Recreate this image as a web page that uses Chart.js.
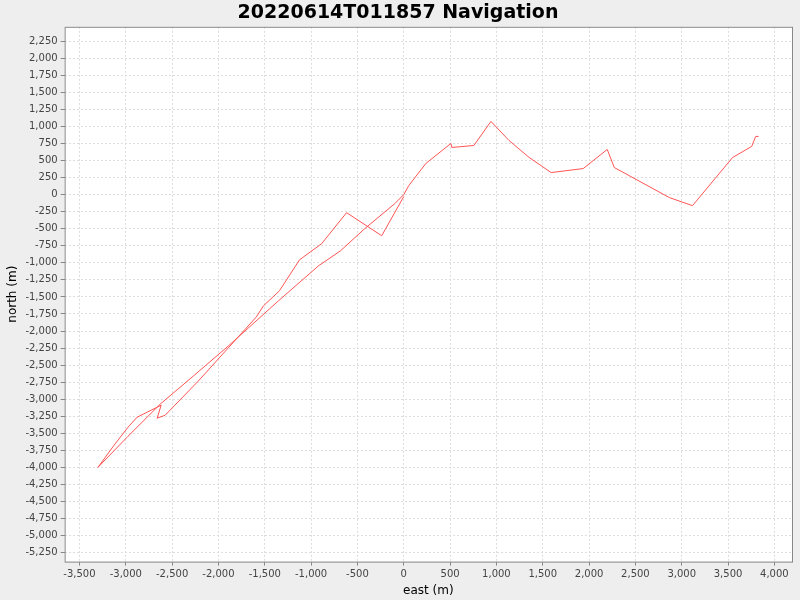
<!DOCTYPE html><html><head><style>body{margin:0;background:#eeeeee}</style>
<script src="https://cdn.jsdelivr.net/npm/chart.js@4"></script></head><body>
<canvas id="c" width="800" height="600"></canvas>
<script>
const east=[3830,3798,3755,3549,3116,2867,2272,2196,1937,1591,1353,1136,941,757,519,509,238,54,0,-97,-422,-682,-920,-1353,-1894,-2272,-2629,-2976,-3300,-3127,-2976,-2878,-2618,-2662,-2575,-2218,-1591,-1515,-1342,-1125,-887,-617,-238,0];
const north=[853,853,706,544,-162,-44,397,662,382,323,544,794,1073,720,691,750,456,132,0,-132,-500,-823,-1044,-1558,-2220,-2661,-3072,-3543,-3998,-3675,-3410,-3263,-3087,-3278,-3234,-2734,-1793,-1632,-1411,-956,-720,-265,-603,-29];
const pts=east.map((e,i)=>({x:e,y:north[i]}));
const bg={id:'bg',beforeDraw(c){const a=c.chartArea,x=c.ctx;x.save();x.fillStyle='#fff';x.fillRect(a.left,a.top,a.right-a.left,a.bottom-a.top);x.restore();},
afterDraw(c){const a=c.chartArea,x=c.ctx;x.save();x.strokeStyle='#888';x.lineWidth=1;x.strokeRect(a.left+.5,a.top+.5,a.right-a.left,a.bottom-a.top);x.restore();}};
const fmt=v=>v.toLocaleString('en-US');
const grid={color:'#dddddd',tickColor:'#888',tickLength:4,drawTicks:true};
new Chart(document.getElementById('c'),{type:'scatter',data:{datasets:[{data:pts,showLine:true,borderColor:'#ff5555',borderWidth:1,pointRadius:0,tension:0}]},
options:{responsive:false,animation:false,layout:{padding:{right:8,left:4,bottom:2}},
plugins:{legend:{display:false},title:{display:true,text:'20220614T011857 Navigation',font:{family:'DejaVu Sans',size:19,weight:'bold'},color:'#000',padding:{top:2,bottom:2}}},
scales:{x:{min:-3660,max:4190,border:{display:false,dash:[2,2]},grid:grid,
afterBuildTicks(s){s.ticks=[];for(let v=-3500;v<=4000;v+=500)s.ticks.push({value:v});},
ticks:{callback:fmt,font:{family:'DejaVu Sans',size:10},color:'#444',maxRotation:0,autoSkip:false},
title:{display:true,text:'east (m)',font:{family:'DejaVu Sans',size:12},color:'#000',padding:0}},
y:{min:-5380,max:2460,border:{display:false,dash:[2,2]},grid:grid,
afterBuildTicks(s){s.ticks=[];for(let v=-5250;v<=2250;v+=250)s.ticks.push({value:v});},
ticks:{callback:fmt,font:{family:'DejaVu Sans',size:10},color:'#444',autoSkip:false},
title:{display:true,text:'north (m)',font:{family:'DejaVu Sans',size:12},color:'#000',padding:2}}}},plugins:[bg]});
</script></body></html>
